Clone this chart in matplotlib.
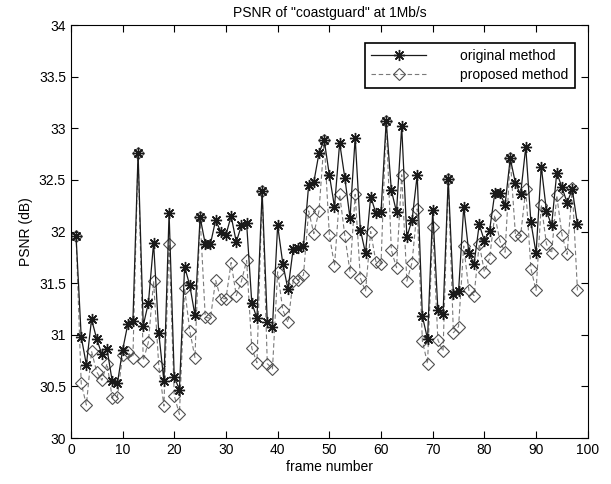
import numpy as np
import matplotlib
matplotlib.use('Agg')
import matplotlib.pyplot as plt

plt.rcParams['font.family'] = ['Liberation Sans', 'DejaVu Sans']
plt.rcParams['font.size'] = 10

frames = np.arange(1, 99)

original = [
    31.96, 30.98, 30.71, 31.15, 30.96, 30.81, 30.86, 30.55, 30.53, 30.85,
    31.10, 31.13, 32.76, 31.09, 31.31, 31.89, 31.02, 30.55, 32.18, 30.59,
    30.47, 31.66, 31.48, 31.19, 32.14, 31.88, 31.88, 32.11, 32.00, 31.97,
    32.15, 31.90, 32.06, 32.08, 31.31, 31.16, 32.39, 31.12, 31.08, 32.06,
    31.69, 31.44, 31.83, 31.84, 31.86, 32.45, 32.48, 32.76, 32.89, 32.55,
    32.24, 32.86, 32.52, 32.13, 32.91, 32.02, 31.79, 32.34, 32.18, 32.19,
    33.07, 32.40, 32.19, 33.02, 31.95, 32.11, 32.55, 31.18, 30.96, 32.21,
    31.24, 31.20, 32.51, 31.40, 31.42, 32.24, 31.79, 31.69, 32.07, 31.91,
    32.01, 32.37, 32.37, 32.26, 32.71, 32.47, 32.36, 32.82, 32.09, 31.79,
    32.63, 32.20, 32.06, 32.57, 32.43, 32.28, 32.41, 32.07,
]

proposed = [
    31.96, 30.53, 30.32, 30.84, 30.64, 30.56, 30.72, 30.39, 30.40, 30.80,
    30.83, 30.78, 32.76, 30.75, 30.93, 31.52, 30.70, 30.31, 31.88, 30.41,
    30.23, 31.45, 31.04, 30.78, 32.14, 31.17, 31.16, 31.53, 31.35, 31.35,
    31.70, 31.38, 31.52, 31.72, 30.87, 30.73, 32.39, 30.72, 30.67, 31.61,
    31.24, 31.12, 31.52, 31.53, 31.58, 32.20, 31.98, 32.20, 32.89, 31.97,
    31.67, 32.36, 31.96, 31.61, 32.36, 31.55, 31.42, 32.00, 31.71, 31.69,
    33.07, 31.82, 31.65, 32.55, 31.52, 31.70, 32.22, 30.94, 30.72, 32.04,
    30.95, 30.84, 32.51, 31.02, 31.08, 31.86, 31.43, 31.38, 31.88, 31.61,
    31.74, 32.16, 31.91, 31.80, 32.71, 31.97, 31.96, 32.41, 31.64, 31.43,
    32.26, 31.88, 31.79, 32.35, 31.97, 31.78, 32.42, 31.43,
]

fig = plt.figure(figsize=(6.11, 4.84), dpi=100)
ax = fig.add_axes([0.116, 0.095, 0.846, 0.853])

ax.plot(frames, proposed, color='#7a7a7a', linestyle='--', dashes=(4, 2.5),
        linewidth=0.8, marker='D', markersize=6, markerfacecolor='none',
        markeredgecolor='#505050', markeredgewidth=0.8, label='proposed method')
# MATLAB-like '*' marker: eight-armed asterisk
ax.plot(frames, original, color='#1a1a1a', linestyle='-', linewidth=0.9,
        marker=(8, 2, 0), markersize=8, markeredgecolor='#1a1a1a',
        markeredgewidth=1.0, label='original method')

ax.set_xlim(0, 100)
ax.set_ylim(30, 34)
ax.set_xticks(np.arange(0, 101, 10))
ax.set_yticks(np.arange(30, 34.01, 0.5))
ax.set_yticklabels(['30', '30.5', '31', '31.5', '32', '32.5', '33', '33.5', '34'])
ax.tick_params(direction='in', top=True, right=True, length=5, width=0.8)
for s in ax.spines.values():
    s.set_linewidth(0.8)

ax.set_title('PSNR of "coastguard" at 1Mb/s', fontsize=10, pad=6)
ax.set_xlabel('frame number', labelpad=2)
ax.set_ylabel('PSNR (dB)', labelpad=4)

handles, labels = ax.get_legend_handles_labels()
leg = ax.legend(handles[::-1], labels[::-1], loc='upper right',
                bbox_to_anchor=(0.975, 0.958), borderaxespad=0,
                handlelength=3.9, handletextpad=2.5,
                fancybox=False, framealpha=1, edgecolor='black',
                borderpad=0.45, labelspacing=0.35)
leg.get_frame().set_linewidth(1.2)

fig.savefig('out.png', dpi=100)
